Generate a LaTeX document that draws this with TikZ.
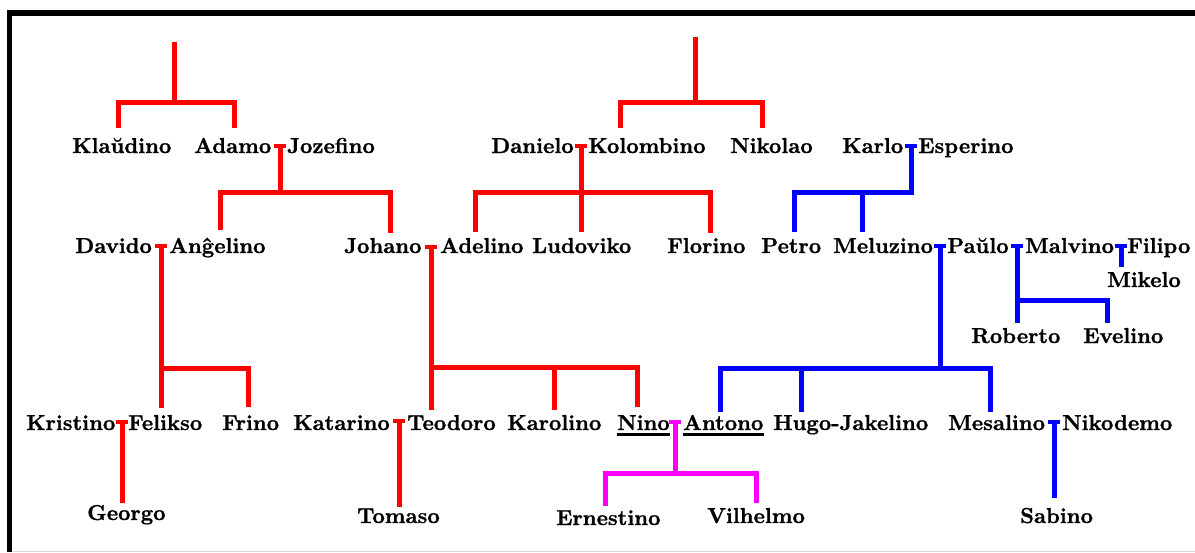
\documentclass[tikz,border=0pt]{standalone}
\usepackage{fontspec}
\newfontfamily\namefont{lmroman10-bold}[Extension=.otf, FakeBold=1]
\definecolor{puremagenta}{RGB}{255,0,255}
\definecolor{purered}{RGB}{255,0,0}
\definecolor{pureblue}{RGB}{0,0,255}
\begin{document}
\begin{tikzpicture}[x=1pt,y=-1pt,
  person/.style={anchor=base west, inner sep=0pt, font=\namefont\fontsize{21.6}{26}\selectfont},
  bond/.style={line width=5pt, line join=miter},
  tie/.style={line width=4pt}]
\useasboundingbox (0,0) rectangle (1195,552);
\fill[white] (0,0) rectangle (1195,552);
\fill[black] (7,10) rectangle (1195,16);
\fill[black] (7,10) rectangle (12,552);
\draw[black!15, line width=1pt] (12,551) -- (1195,551);

% ---- row 1
\node[person] (klaudino) at (72,153) {Klaŭdino};
\node[person] (adamo) at (194,153) {Adamo};
\node[person] (jozefino) at (287,153) {Jozefino};
\node[person] (danielo) at (491,153) {Danielo};
\node[person] (kolombino) at (588,153) {Kolombino};
\node[person] (nikolao) at (730,153) {Nikolao};
\node[person] (karlo) at (842,153) {Karlo};
\node[person] (esperino) at (918,153) {Esperino};
% ---- row 2
\node[person] (davido) at (75,253) {Davido};
\node[person] (angelino) at (169,253) {Anĝelino};
\node[person] (johano) at (344,253) {Johano};
\node[person] (adelino) at (440,253) {Adelino};
\node[person] (ludoviko) at (532,253) {Ludoviko};
\node[person] (florino) at (667,253) {Florino};
\node[person] (petro) at (761,253) {Petro};
\node[person] (meluzino) at (833,253) {Meluzino};
\node[person] (paulo) at (947,253) {Paŭlo};
\node[person] (malvino) at (1025,253) {Malvino};
\node[person] (filipo) at (1127,253) {Filipo};
\node[person] (mikelo) at (1107,287) {Mikelo};
\node[person] (roberto) at (971,343) {Roberto};
\node[person] (evelino) at (1083,343) {Evelino};
% ---- row 3
\node[person] (kristino) at (26,430) {Kristino};
\node[person] (felikso) at (128,430) {Felikso};
\node[person] (frino) at (222,430) {Frino};
\node[person] (katarino) at (293,430) {Katarino};
\node[person] (teodoro) at (407,430) {Teodoro};
\node[person] (karolino) at (507,430) {Karolino};
\node[person] (nino) at (617,430) {Nino};
\node[person] (antono) at (683,430) {Antono};
\node[person] (hugo) at (773,430) {Hugo-Jakelino};
\node[person] (mesalino) at (948,430) {Mesalino};
\node[person] (nikodemo) at (1062,430) {Nikodemo};
% ---- row 4
\node[person] (georgo) at (87,520) {Georgo};
\node[person] (tomaso) at (357,523) {Tomaso};
\node[person] (ernestino) at (556,525) {Ernestino};
\node[person] (vilhelmo) at (707,523) {Vilhelmo};
\node[person] (sabino) at (1020,523) {Sabino};

\draw[line width=3pt] ([yshift=-4.5pt]nino.base west) -- ([yshift=-4.5pt]nino.base east);
\draw[line width=3pt] ([yshift=-4.5pt]antono.base west) -- ([yshift=-4.5pt]antono.base east);

% ---- unions
\coordinate (topA) at (174,42);
\coordinate (topB) at (695,37);
\coordinate (mAJ) at (280,146);
\coordinate (mDK) at (581,146);
\coordinate (mKE) at (911,146);
\coordinate (mDA) at (161,246);
\coordinate (mJA) at (431,247);
\coordinate (mMP) at (940,246);
\coordinate (mPM) at (1017,246);
\coordinate (mMF) at (1121,246);
\coordinate (mKF) at (122,422);
\coordinate (mKT) at (399,421);
\coordinate (mNA) at (675,422);
\coordinate (mMN) at (1054,422);

\begin{scope}[purered]
\draw[bond] (topA) -- (174,102);
\draw[bond] (118,128) |- (234,102) -- (234,128);
\draw[bond] (topB) -- (695,102);
\draw[bond] (620,128) |- (762,102) -- (762,128);
\foreach \m in {mAJ,mDK,mDA,mJA,mKF,mKT}
  \draw[tie] (\m) ++(-6,0) -- ++(12,0);
\draw[bond] (mAJ) -- (280,192);
\draw[bond] (220,230) |- (390,192) -- (390,233);
\draw[bond] (mDK) -- (581,232);
\draw[bond] (475,232) |- (710,192) -- (710,233);
\draw[bond] (mDA) -- (161,408);
\draw[bond] (161,368) -- (248,368) -- (248,407);
\draw[bond] (mJA) -- (431,410);
\draw[bond] (431,367) -- (637,367) -- (637,407);
\draw[bond] (554,367) -- (554,410);
\draw[bond] (mKF) -- (122,503);
\draw[bond] (mKT) -- (399,507);
\end{scope}

\begin{scope}[pureblue]
\foreach \m in {mKE,mMP,mPM,mMF,mMN}
  \draw[tie] (\m) ++(-6,0) -- ++(12,0);
\draw[bond] (mKE) |- (794,192) -- (794,232);
\draw[bond] (862,192) -- (862,232);
\draw[bond] (mMP) -- (940,368);
\draw[bond] (720,412) |- (990,368) -- (990,412);
\draw[bond] (801,368) -- (801,412);
\draw[bond] (mPM) -- (1017,323);
\draw[bond] (1017,300) -| (1107,323);
\draw[bond] (mMF) -- (1121,267);
\draw[bond] (mMN) -- (1054,498);
\end{scope}

\begin{scope}[puremagenta]
\draw[tie] (mNA) ++(-6,0) -- ++(12,0);
\draw[bond] (mNA) -- (675,473);
\draw[bond] (605,506) |- (756,473) -- (756,503);
\end{scope}
\end{tikzpicture}
\end{document}
